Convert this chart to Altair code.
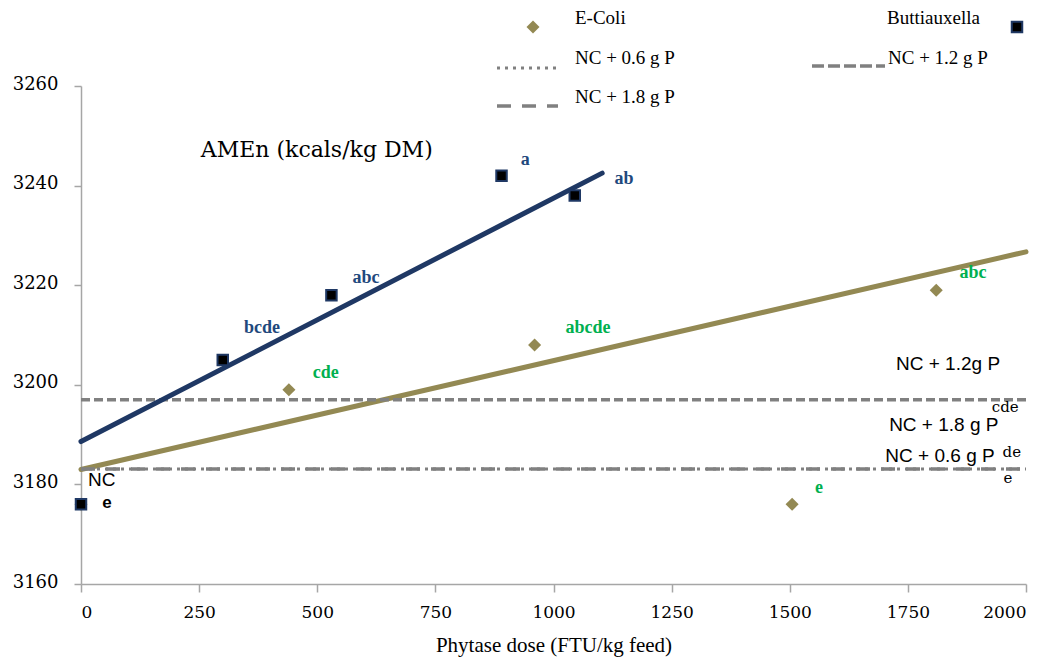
import altair as alt
import pandas as pd

# ---- data ----
butt_dose = [0, 300, 530, 890, 1045]
butt_amen = [3176, 3205, 3218, 3242, 3238]
ecoli_dose = [0, 440, 960, 1505, 1810]
ecoli_amen = [3176, 3199, 3208, 3176, 3219]

butt_fit_x = [0, 1103]
butt_fit_y = [3188.6, 3242.5]
ecoli_fit_x = [0, 2000]
ecoli_fit_y = [3183.0, 3226.7]

ref_names = ["NC + 0.6 g P", "NC + 1.2 g P", "NC + 1.8 g P"]
ref_values = [3183.1, 3197.0, 3183.1]

butt_letters = ["a", "ab", "abc", "bcde"]
butt_letter_x = [940, 1149, 603, 383]
butt_letter_y = [3245.1, 3241.3, 3221.4, 3211.4]

ecoli_letters = ["abcde", "cde", "abc", "e"]
ecoli_letter_x = [1073, 518, 1888, 1562]
ecoli_letter_y = [3211.4, 3202.4, 3222.4, 3179.3]

ref_labels = ["NC + 1.2g P", "NC + 1.8 g P", "NC + 0.6 g P", "NC"]
ref_label_x = [1835, 1826, 1818, 44]
ref_label_y = [3204.2, 3191.9, 3185.7, 3180.9]

ref_letters = ["cde", "de", "e"]
ref_letter_x = [1956, 1970, 1962]
ref_letter_y = [3195.5, 3186.5, 3181.3]

W, H = 945, 498
NAVY = "#1F3864"
OLIVE = "#938953"
GREY = "#808080"
SERIF = "Liberation Serif"
SERIF2 = "DejaVu Serif"
SANS = "Liberation Sans"

xs = alt.Scale(domain=[0, 2000], nice=False)
ys = alt.Scale(domain=[3160, 3260], nice=False)

xax = alt.Axis(values=list(range(0, 2001, 250)), format="d", grid=False, domainColor="#A6A6A6",
               tickColor="#A6A6A6", tickSize=8, domainWidth=1.5, tickWidth=1.5,
               labelFont=SERIF2, labelFontSize=17, labelColor="#000", labelPadding=12,
               title="Phytase dose (FTU/kg feed)", titleFont=SERIF, titleFontSize=21,
               titleFontWeight="normal", titleColor="#000", titlePadding=14)
yax = alt.Axis(values=list(range(3160, 3261, 20)), format="d", grid=False, domainColor="#A6A6A6",
               tickColor="#A6A6A6", tickSize=7, domainWidth=1.5, tickWidth=1.5,
               labelFont=SERIF2, labelFontSize=18, labelColor="#000", labelPadding=16,
               labelOffset=-2, title=None)

bdf = pd.DataFrame({"x": butt_dose, "y": butt_amen})
edf = pd.DataFrame({"x": ecoli_dose, "y": ecoli_amen})
bfit = pd.DataFrame({"x": butt_fit_x, "y": butt_fit_y})
efit = pd.DataFrame({"x": ecoli_fit_x, "y": ecoli_fit_y})
refdf = pd.DataFrame({"name": ref_names, "y": ref_values})

def hline(name, dash, width=3.5):
    d = refdf[refdf["name"] == name]
    return alt.Chart(d).mark_rule(color=GREY, strokeWidth=width, strokeDash=dash).encode(
        y=alt.Y("y:Q", scale=ys, axis=yax), x=alt.value(0), x2=alt.value(W))

l_12 = hline("NC + 1.2 g P", [9, 4])
l_06 = hline("NC + 0.6 g P", [3, 5], 3)
l_18 = hline("NC + 1.8 g P", [14, 11], 3.5)

efit_line = alt.Chart(efit).mark_line(color=OLIVE, strokeWidth=5, strokeCap="round").encode(
    x=alt.X("x:Q", scale=xs, axis=xax), y=alt.Y("y:Q", scale=ys, axis=yax))
bfit_line = alt.Chart(bfit).mark_line(color=NAVY, strokeWidth=5, strokeCap="round").encode(
    x=alt.X("x:Q", scale=xs), y=alt.Y("y:Q", scale=ys))

e_pts = alt.Chart(edf).mark_point(shape="diamond", filled=True, color=OLIVE, size=170, opacity=1).encode(
    x=alt.X("x:Q", scale=xs), y=alt.Y("y:Q", scale=ys))
b_pts = alt.Chart(bdf).mark_point(shape="square", filled=True, fill="#000", stroke=NAVY,
                                  strokeWidth=2, size=110, opacity=1).encode(
    x=alt.X("x:Q", scale=xs), y=alt.Y("y:Q", scale=ys))

def texts(labels, xv, yv, color, font, size, weight="normal", align="center"):
    d = pd.DataFrame({"t": labels, "x": xv, "y": yv})
    return alt.Chart(d).mark_text(color=color, font=font, fontSize=size, fontWeight=weight,
                                  align=align, baseline="middle").encode(
        x=alt.X("x:Q", scale=xs), y=alt.Y("y:Q", scale=ys), text="t:N")

t_b = texts(butt_letters, butt_letter_x, butt_letter_y, "#1F497D", SERIF, 18, "bold")
t_e = texts(ecoli_letters, ecoli_letter_x, ecoli_letter_y, "#00B050", SERIF, 18, "bold")
t_ref = texts(ref_labels, ref_label_x, ref_label_y, "#000", SANS, 19)
t_refl = texts(ref_letters, ref_letter_x, ref_letter_y, "#000", SERIF2, 15)
t_e0 = texts(["e"], [55], [3176.3], "#000", SANS, 17, "bold")
t_title = texts(["AMEn (kcals/kg DM)"], [499], [3247.1], "#000", SERIF2, 22)

# ---- legend (pixel positions relative to plot origin) ----
one = pd.DataFrame({"k": [0]})
def leg_text(s, x, y):
    return alt.Chart(one).mark_text(text=s, font=SERIF, fontSize=19, color="#000",
                                    align="left", baseline="middle").encode(
        x=alt.value(x), y=alt.value(y))
def leg_line(x1, x2, y, dash, w):
    return alt.Chart(one).mark_rule(color=GREY, strokeWidth=w, strokeDash=dash).encode(
        x=alt.value(x1), x2=alt.value(x2), y=alt.value(y))

leg = [
    alt.Chart(one).mark_point(shape="diamond", filled=True, color=OLIVE, size=170, opacity=1).encode(
        x=alt.value(452), y=alt.value(-59)),
    leg_text("E-Coli", 494, -68),
    alt.Chart(one).mark_point(shape="square", filled=True, fill="#000", stroke=NAVY, strokeWidth=2,
                              size=110, opacity=1).encode(x=alt.value(936), y=alt.value(-59)),
    leg_text("Buttiauxella", 806, -68),
    leg_line(416, 477, -18, [3, 5], 3),
    leg_text("NC + 0.6 g P", 494, -28),
    leg_line(731, 804, -20, [12, 4], 3.5),
    leg_text("NC + 1.2 g P", 807, -28),
    leg_line(416, 477, 20, [14, 11], 3.5),
    leg_text("NC + 1.8 g P", 494, 11),
]

chart = alt.layer(
    efit_line, l_12, l_06, l_18, bfit_line, e_pts, b_pts,
    t_b, t_e, t_ref, t_refl, t_e0, t_title, *leg
).properties(
    width=W, height=H,
    autosize=alt.AutoSizeParams(type="none"),
    padding={"left": 81, "top": 86, "right": 25, "bottom": 82},
    background="#FFFFFF",
).configure_view(stroke=None)

chart.save("out.html", embed_options={"renderer": "svg", "actions": False})
